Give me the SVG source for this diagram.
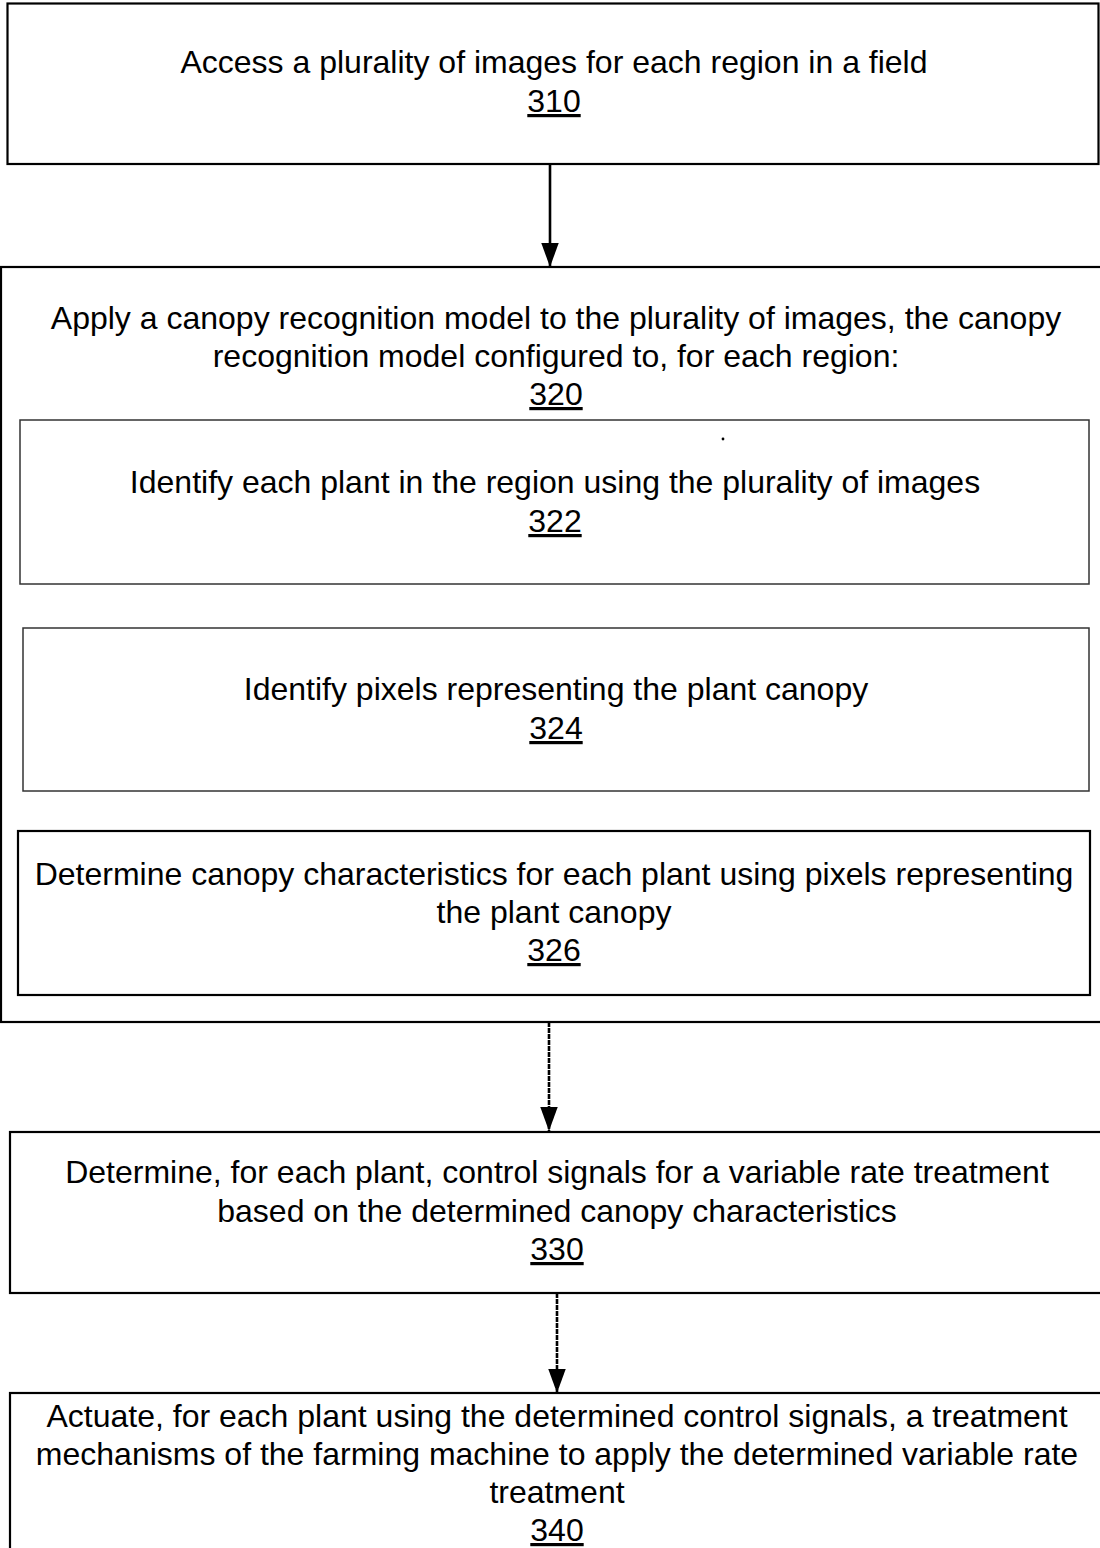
<svg xmlns="http://www.w3.org/2000/svg" width="1100" height="1548" viewBox="0 0 1100 1548">
<style>
.box{fill:none;stroke:#000;stroke-width:2.2}
.thin{fill:none;stroke:#333;stroke-width:1.5}
text{font-family:"Liberation Sans",Arial,sans-serif;font-size:32px;fill:#000;text-anchor:middle}
.num{text-decoration:underline}
.conn{stroke:#000;stroke-width:2.6;fill:none}
.dot{stroke-dasharray:5,1}
</style>
<defs>
<marker id="arr" markerUnits="userSpaceOnUse" markerWidth="24" markerHeight="18" refX="22" refY="8" orient="auto" viewBox="0 0 22 16">
<path d="M0,0 L22,8 L0,16 Z" fill="#000"/>
</marker>
</defs>
<rect width="1100" height="1548" fill="#fff"/>
<g id="n310">
<rect class="box" x="7.5" y="3.5" width="1091" height="160.5"/>
<text x="554" y="73">Access a plurality of images for each region in a field</text>
<text class="num" x="554" y="112">310</text>
</g>
<g id="n320">
<rect class="box" x="1" y="267" width="1102" height="755"/>
<text x="556" y="329">Apply a canopy recognition model to the plurality of images, the canopy</text>
<text x="556" y="367">recognition model configured to, for each region:</text>
<text class="num" x="556" y="405">320</text>
<circle cx="723" cy="439" r="1.4" fill="#000"/>
</g>
<g id="n322">
<rect class="thin" x="20" y="420" width="1069" height="164"/>
<text x="555" y="493">Identify each plant in the region using the plurality of images</text>
<text class="num" x="555" y="532">322</text>
</g>
<g id="n324">
<rect class="thin" x="23" y="628" width="1066" height="163"/>
<text x="556" y="700">Identify pixels representing the plant canopy</text>
<text class="num" x="556" y="739">324</text>
</g>
<g id="n326">
<rect class="box" x="18" y="831" width="1072" height="164"/>
<text x="554" y="885">Determine canopy characteristics for each plant using pixels representing</text>
<text x="554" y="923">the plant canopy</text>
<text class="num" x="554" y="961">326</text>
</g>
<g id="n330">
<rect class="box" x="10" y="1132" width="1100" height="161"/>
<text x="557" y="1183">Determine, for each plant, control signals for a variable rate treatment</text>
<text x="557" y="1222">based on the determined canopy characteristics</text>
<text class="num" x="557" y="1260">330</text>
</g>
<g id="n340">
<rect class="box" x="10" y="1393" width="1100" height="170"/>
<text x="557" y="1427">Actuate, for each plant using the determined control signals, a treatment</text>
<text x="557" y="1465">mechanisms of the farming machine to apply the determined variable rate</text>
<text x="557" y="1503">treatment</text>
<text class="num" x="557" y="1541">340</text>
</g>
<g id="connectors">
<line class="conn" x1="550" y1="164" x2="550" y2="267" marker-end="url(#arr)"/>
<line class="conn dot" x1="549" y1="1022" x2="549" y2="1131" marker-end="url(#arr)"/>
<line class="conn dot" x1="557" y1="1293" x2="557" y2="1393" marker-end="url(#arr)"/>
</g>
</svg>
